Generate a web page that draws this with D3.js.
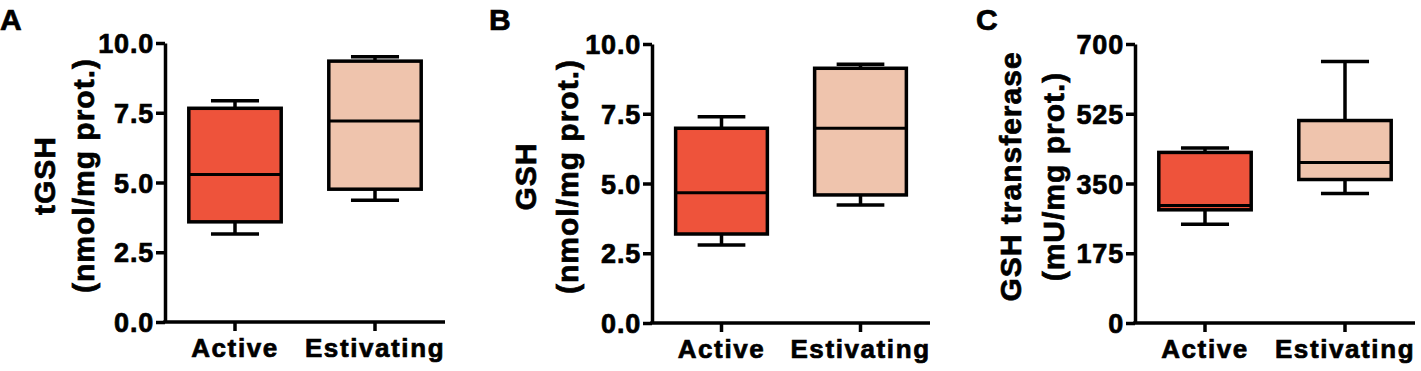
<!DOCTYPE html>
<html>
<head>
<meta charset="utf-8">
<script src="https://cdn.jsdelivr.net/npm/d3@7"></script>
<style>
  body { margin: 0; background: #fff; }
  svg text { font-family: "Liberation Sans", Arial, sans-serif; font-weight: bold; fill: #000;
             stroke: #000; stroke-width: 0.7px; }
  .axis path, .axis line { stroke: #000; stroke-width: 3.5; }
</style>
</head>
<body>
<svg id="chart" width="1421" height="371"></svg>
<script>
'use strict';

var categories = ['Active', 'Estivating'];
var boxColors = ['#ee533b', '#efc4ad'];

// each row: min, q1, median, q3, max
var tgsh = [[3.15, 3.59, 5.29, 7.66, 7.93], [4.36, 4.76, 7.20, 9.35, 9.51]];
var gsh = [[2.80, 3.19, 4.67, 6.98, 7.39], [4.23, 4.59, 6.98, 9.13, 9.27]];
var gst = [[248, 284, 295, 428, 439], [325, 360, 403, 508, 656]];

var ticksGsh = [0, 2.5, 5, 7.5, 10];
var ticksGst = [0, 175, 350, 525, 700];

var svg = d3.select('#chart');

var panels = [
  {letter: 'A', lx: 0, left: 165, right: 445, top: 43, bottom: 322, max: 10,
   ticks: ticksGsh, fmt: d3.format('.1f'), data: tgsh,
   title: ['tGSH', '(nmol/mg prot.)'], tx: [-121, -82]},
  {letter: 'B', lx: 489, left: 652, right: 930, top: 44, bottom: 323, max: 10,
   ticks: ticksGsh, fmt: d3.format('.1f'), data: gsh,
   title: ['GSH', '(nmol/mg prot.)'], tx: [-127, -85]},
  {letter: 'C', lx: 976, left: 1135, right: 1415, top: 44, bottom: 323, max: 700,
   ticks: ticksGst, fmt: d3.format('d'), data: gst,
   title: ['GSH transferase', '(mU/mg prot.)'], tx: [-125, -82]}
];

function drawPanel(p) {
  var g = svg.append('g');
  var x = d3.scaleBand().domain(categories).range([p.left, p.right]).padding(0);
  var y = d3.scaleLinear().domain([0, p.max]).range([p.bottom, p.top]);
  var bw = x.bandwidth() * 0.66;
  var cw = bw * 0.52;

  // boxes
  var box = g.selectAll('.box')
      .data(p.data)
    .enter().append('g')
      .attr('class', 'box')
      .attr('transform', function(d, i) {
        return 'translate(' + (x(categories[i]) + x.bandwidth() / 2) + ',0)';
      });

  box.append('line')
      .attr('x1', 0).attr('x2', 0)
      .attr('y1', function(d) { return y(d[0]); })
      .attr('y2', function(d) { return y(d[4]); })
      .attr('stroke', '#000').attr('stroke-width', 3.5);
  box.selectAll('.cap')
      .data(function(d) { return [d[0], d[4]]; })
    .enter().append('line')
      .attr('x1', -cw / 2).attr('x2', cw / 2)
      .attr('y1', function(v) { return y(v); })
      .attr('y2', function(v) { return y(v); })
      .attr('stroke', '#000').attr('stroke-width', 3.5);
  box.append('rect')
      .attr('x', -bw / 2)
      .attr('width', bw)
      .attr('y', function(d) { return y(d[3]); })
      .attr('height', function(d) { return y(d[1]) - y(d[3]); })
      .attr('fill', function(d, i) { return boxColors[i]; })
      .attr('stroke', '#000').attr('stroke-width', 3.5);
  box.append('line')
      .attr('x1', -bw / 2).attr('x2', bw / 2)
      .attr('y1', function(d) { return y(d[2]); })
      .attr('y2', function(d) { return y(d[2]); })
      .attr('stroke', '#000').attr('stroke-width', 3);

  // axes
  var yAxis = g.append('g')
      .attr('class', 'axis')
      .attr('transform', 'translate(' + p.left + ',0)')
      .call(d3.axisLeft(y).tickValues(p.ticks).tickFormat(p.fmt)
            .tickSize(9).tickSizeOuter(0).tickPadding(2));
  yAxis.selectAll('text')
      .style('font-size', '27px')
      .style('letter-spacing', '0.8px')
      .attr('dy', '0.36em');

  var xAxis = g.append('g')
      .attr('class', 'axis')
      .attr('transform', 'translate(0,' + p.bottom + ')')
      .call(d3.axisBottom(x).tickSize(9).tickSizeOuter(0).tickPadding(8));
  xAxis.select('.domain').attr('d', 'M' + (p.left - 1.75) + ',0H' + p.right);
  xAxis.selectAll('text')
      .style('font-size', '26px')
      .style('letter-spacing', '1.6px')
      .attr('dy', '0.71em');

  // y title, two lines
  var cy = (p.top + p.bottom) / 2 - 7;
  p.title.forEach(function(t, i) {
    g.append('text')
        .attr('transform', 'translate(' + (p.left + p.tx[i]) + ',' + cy + ') rotate(-90)')
        .attr('text-anchor', 'middle')
        .attr('dy', '0.35em')
        .style('font-size', '30px')
        .style('letter-spacing', '1px')
        .text(t);
  });

  g.append('text')
      .attr('x', p.lx)
      .attr('y', 30)
      .style('font-size', '30px')
      .text(p.letter);
}

panels.forEach(drawPanel);
</script>
</body>
</html>
